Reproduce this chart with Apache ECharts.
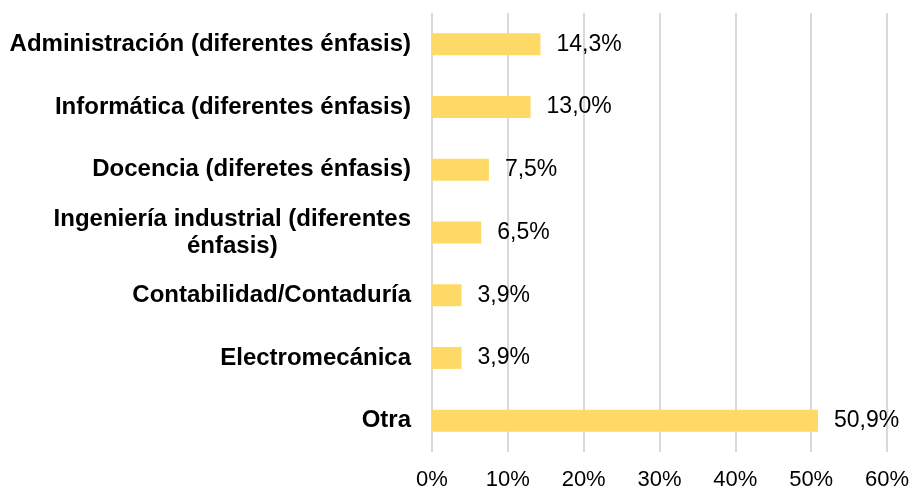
<!DOCTYPE html>
<html>
<head>
<meta charset="utf-8">
<script src="https://cdn.jsdelivr.net/npm/echarts@6/dist/echarts.min.js"></script>
<style>
  html, body { margin: 0; padding: 0; background: #fff; }
  #chart { width: 915px; height: 491px; }
</style>
</head>
<body>
<div id="chart"></div>
<script>
  // categories from top to bottom
  const categories = [
    'Administración (diferentes énfasis)',
    'Informática (diferentes énfasis)',
    'Docencia (diferetes énfasis)',
    'Ingeniería industrial (diferentes\nénfasis)',
    'Contabilidad/Contaduría',
    'Electromecánica',
    'Otra'
  ];
  const values = [14.3, 13.0, 7.5, 6.5, 3.9, 3.9, 50.9];
  const tickMax = 60;
  const tickStep = 10;

  const myChart = echarts.init(document.getElementById('chart'));
  const option = {
    animation: false,
    grid: { left: 432, right: 28, top: 13, bottom: 38 },
    xAxis: {
      type: 'value',
      min: 0,
      max: tickMax,
      interval: tickStep,
      axisLine: { show: false },
      axisTick: { show: false },
      splitLine: { lineStyle: { color: '#d9d9d9', width: 2 } },
      axisLabel: {
        margin: 17,
        fontFamily: 'Liberation Sans',
        fontSize: 22,
        color: '#000',
        formatter: v => v + '%'
      }
    },
    yAxis: {
      type: 'category',
      inverse: true,
      data: categories,
      axisLine: { show: false },
      axisTick: { show: false },
      axisLabel: {
        margin: 21,
        formatter: v => v.split('\n').map(s => '{a|' + s + '}').join('\n'),
        rich: {
          a: {
            fontFamily: 'Liberation Sans',
            fontWeight: 'bold',
            fontSize: 24,
            color: '#000',
            align: 'center',
            lineHeight: 27
          }
        }
      }
    },
    series: [{
      type: 'bar',
      data: values,
      barWidth: 22,
      itemStyle: { color: '#FFD966' },
      label: {
        show: true,
        position: 'right',
        distance: 16,
        fontFamily: 'Liberation Sans',
        fontSize: 23,
        color: '#000',
        formatter: p => p.value.toFixed(1).replace('.', ',') + '%'
      }
    }]
  };
  myChart.setOption(option);
</script>
</body>
</html>
